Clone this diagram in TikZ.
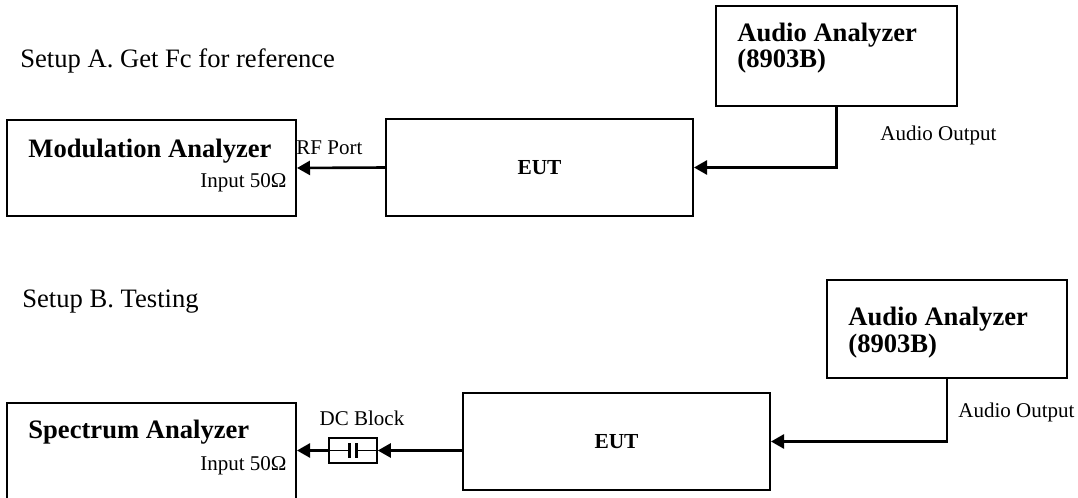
\documentclass[tikz,border=0pt]{standalone}
\usepackage{fontspec}
\setmainfont{Liberation Serif}
\usetikzlibrary{arrows.meta, positioning}
\tikzset{
  >={Triangle[length=6.5pt,width=7pt]},  % punta piena
  % Blocchi
  unit/.style={draw,line width=1pt,inner sep=0pt},
  unit dut/.style={unit,minimum width=153.5pt,minimum height=48.5pt,font=\fontsize{10.7}{12}\selectfont\bfseries},
  unit meter/.style={unit,minimum width=120.5pt,minimum height=50pt},
  unit rx/.style={unit,minimum width=144.5pt,minimum height=48pt},
  dcbox/.style={draw,line width=0.8pt,inner sep=0pt,minimum width=24pt,minimum height=12.5pt},
  % Testi
  lbl/.style={inner sep=0pt},
  lbl big/.style={lbl,font=\fontsize{13.3}{13.3}\selectfont},
  lbl bold/.style={lbl,font=\fontsize{13.3}{13.3}\selectfont\bfseries},
  lbl small/.style={lbl,font=\fontsize{10.5}{12}\selectfont},
  % Connessioni
  sig/.style={->,line width=1.3pt},
}
\begin{document}
\begin{tikzpicture}[x=0.5pt,y=-0.5pt]
        \clip (0,0) rectangle (1078,498);
        % Setup A
        \node[lbl big,anchor=base west] (titA) at (20,68) {Setup A. Get Fc for reference};
        \node[unit rx] (modA) at (151.5,168) {};
        \node[lbl bold,anchor=base west] (modAt) at (28,157) {Modulation Analyzer};
        \node[lbl small,anchor=base east] (modAin) at (287,187) {Input 50Ω};
        \node[lbl small,anchor=base west] (rfport) at (296,154) {RF Port};
        \node[unit dut] (eutA) at (539.5,167.5) {EUT};
        \node[unit meter] (audA) at (836.5,55.5) {};
        % base = riga inferiore
        \node[lbl bold,anchor=base west,align=left] (audAt) at (737,68) {Audio Analyzer\\(8903B)};
        \node[lbl small,anchor=base west] (audAout) at (880,140) {Audio Output};
        \draw[sig] (eutA.west) -- (modA.east);
        \draw[sig] (audA.south) |- (eutA.east);
        % Setup B
        \node[lbl big,anchor=base west] (titB) at (22,307) {Setup B. Testing};
        \node[unit rx,minimum height=58.5pt] (specB) at (151.5,461.5) {};
        \node[lbl bold,anchor=base west] (specBt) at (28,438) {Spectrum Analyzer};
        \node[lbl small,anchor=base east] (specBin) at (287,470) {Input 50Ω};
        \node[dcbox] (dcblk) at (353,450.5) {};
        \node[lbl small,anchor=base] (dclbl) at (362,425) {DC Block};
        \draw[line width=0.9pt] (dcblk.west) -- ([xshift=-1.75pt]dcblk.center)
          (dcblk.east) -- ([xshift=1.75pt]dcblk.center);
        \draw[line width=1.3pt] ([xshift=-1.75pt,yshift=3.75pt]dcblk.center) -- ++(0,15)
          ([xshift=1.75pt,yshift=3.75pt]dcblk.center) -- ++(0,15);
        \node[unit dut] (eutB) at (616.5,441.5) {EUT};
        \node[unit meter,minimum width=120pt,minimum height=49pt] (audB) at (947,329) {};
        \node[lbl bold,anchor=base west,align=left] (audBt) at (848,352) {Audio Analyzer\\(8903B)};
        \node[lbl small,anchor=base west] (audBout) at (958,417) {Audio Output};
        \draw[sig] (eutB.west |- dcblk) -- (dcblk.east);
        \draw[sig] (dcblk.west) -- (dcblk.west -| specB.east);
        \draw[sig] (audB.south) |- (eutB.east);
      \end{tikzpicture}
\end{document}
